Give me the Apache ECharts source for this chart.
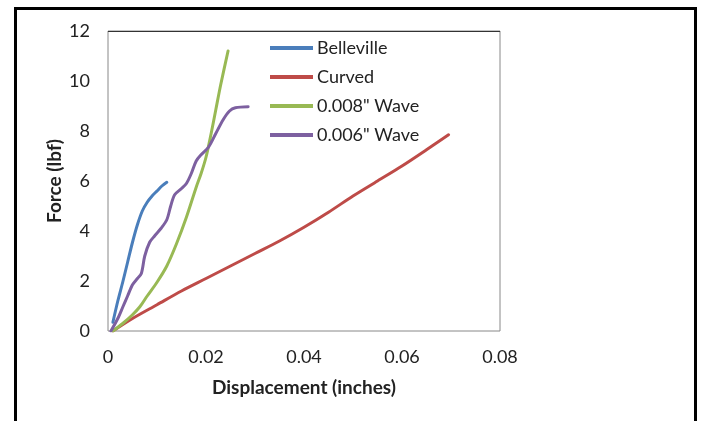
<!DOCTYPE html>
<html>
<head>
<meta charset="utf-8">
<script src="https://cdn.jsdelivr.net/npm/echarts@6/dist/echarts.min.js"></script>
<style>
html,body{margin:0;padding:0;background:#fff;}
#chart{width:701px;height:421px;}
</style>
</head>
<body>
<div id="chart"></div>
<script>
var seriesNames = ['Belleville', 'Curved', '0.008" Wave', '0.006" Wave'];
var xTicks = [0, 0.02, 0.04, 0.06, 0.08];
var yTicks = [0, 2, 4, 6, 8, 10, 12];

var belleville = [[0.001,0.35],[0.002,1.2],[0.003,1.95],[0.004,2.75],[0.005,3.55],[0.006,4.25],[0.007,4.8],[0.008,5.15],[0.009,5.4],[0.010,5.6],[0.011,5.8],[0.012,5.95]];
var curved = [[0.001,0],[0.005,0.5],[0.01,1.05],[0.015,1.6],[0.02,2.1],[0.025,2.6],[0.03,3.1],[0.035,3.6],[0.04,4.15],[0.045,4.75],[0.05,5.4],[0.055,6.0],[0.06,6.6],[0.065,7.25],[0.0695,7.85]];
var wave008 = [[0.001,0],[0.003,0.3],[0.005,0.65],[0.0065,0.97],[0.008,1.4],[0.01,1.95],[0.012,2.6],[0.014,3.5],[0.016,4.55],[0.018,5.75],[0.019,6.3],[0.02,6.95],[0.021,7.85],[0.022,8.85],[0.023,9.85],[0.0245,11.2]];
var wave006 = [[0.0006,0],[0.002,0.5],[0.003,0.95],[0.004,1.4],[0.005,1.85],[0.006,2.1],[0.0068,2.3],[0.0075,3.0],[0.0085,3.55],[0.0095,3.8],[0.0108,4.1],[0.012,4.45],[0.0128,5.0],[0.0136,5.45],[0.015,5.7],[0.016,5.9],[0.017,6.3],[0.018,6.8],[0.019,7.05],[0.0205,7.35],[0.022,7.9],[0.0235,8.45],[0.0248,8.8],[0.026,8.93],[0.0286,8.97]];

var colors = ['#4A7EBB', '#BE4B48', '#98B954', '#7D60A0'];
var dataList = [belleville, curved, wave008, wave006];
var FONT = 'Lato';

var chart = echarts.init(document.getElementById('chart'), null, {renderer: 'canvas'});
chart.setOption({
  animation: false,
  backgroundColor: '#fff',
  textStyle: {fontFamily: FONT},
  graphic: [{
    type: 'rect',
    shape: {x: 15.5, y: 8.5, width: 680, height: 440},
    style: {fill: 'none', stroke: '#000', lineWidth: 3},
    silent: true
  }, {
    type: 'line',
    shape: {x1: 108, y1: 31.5, x2: 500, y2: 31.5},
    style: {stroke: '#333', lineWidth: 1},
    silent: true, z: 10
  }],
  grid: {left: 108, top: 31, right: 201, bottom: 90, show: true, borderColor: '#888', borderWidth: 1, backgroundColor: '#fff'},
  legend: {
    orient: 'vertical',
    left: 270, top: 39, padding: 0,
    itemWidth: 43, itemHeight: 4,
    itemGap: 11,
    icon: 'rect',
    data: seriesNames,
    textStyle: {fontFamily: FONT, fontSize: 18, color: '#222', padding: [0,0,0,-1]}
  },
  xAxis: {
    type: 'value', min: xTicks[0], max: xTicks[xTicks.length-1], interval: 0.02,
    name: 'Displacement (inches)', nameLocation: 'middle', nameGap: 47, nameMoveOverlap: false,
    nameTextStyle: {fontFamily: FONT, fontSize: 19, fontWeight: 'bold', color: '#222'},
    axisLine: {show: false}, axisTick: {show: false}, splitLine: {show: false},
    axisLabel: {fontFamily: FONT, fontSize: 18, color: '#222', margin: 17}
  },
  yAxis: {
    type: 'value', min: yTicks[0], max: yTicks[yTicks.length-1], interval: 2,
    name: 'Force (lbf)', nameLocation: 'middle', nameGap: 44, nameRotate: 90, nameMoveOverlap: false,
    nameTextStyle: {fontFamily: FONT, fontSize: 19, fontWeight: 'bold', color: '#222'},
    axisLine: {show: false}, axisTick: {show: false}, splitLine: {show: false},
    axisLabel: {fontFamily: FONT, fontSize: 18, color: '#222', margin: 18}
  },
  series: seriesNames.map(function(n, i){
    return {
      name: n, type: 'line', data: dataList[i], smooth: 0.3,
      symbol: 'none', showSymbol: false,
      lineStyle: {color: colors[i], width: 3, cap: 'round', join: 'round'},
      itemStyle: {color: colors[i]}
    };
  })
});
</script>
</body>
</html>
